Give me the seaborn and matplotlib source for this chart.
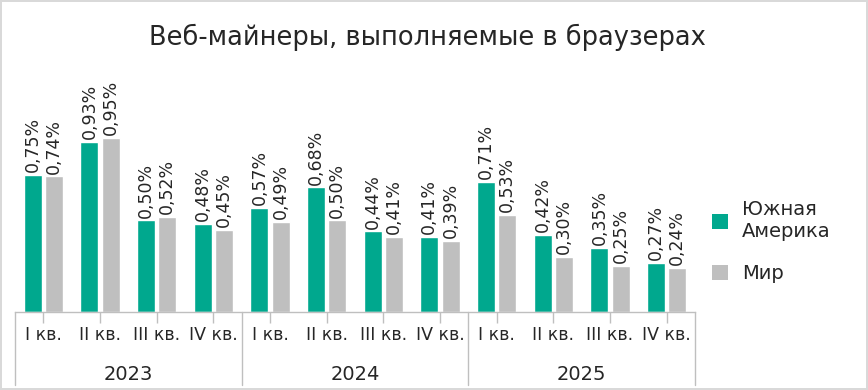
import numpy as np
import pandas as pd
import seaborn as sns
import matplotlib.pyplot as plt
from matplotlib.patches import Patch

quarters = ['I кв.', 'II кв.', 'III кв.', 'IV кв.'] * 3
years = ['2023', '2024', '2025']
south_america = [0.75, 0.93, 0.50, 0.48, 0.57, 0.68, 0.44, 0.41, 0.71, 0.42, 0.35, 0.27]
world = [0.74, 0.95, 0.52, 0.45, 0.49, 0.50, 0.41, 0.39, 0.53, 0.30, 0.25, 0.24]
series = ['Южная\nАмерика', 'Мир']
colors = ['#00A88E', '#BFBFBF']

periods = [f'{y} {q}' for y in years for q in quarters[:4]]
df = pd.DataFrame({
    'period': periods * 2,
    'value': south_america + world,
    'series': [series[0]] * 12 + [series[1]] * 12,
})

sns.set_theme(style='white')
plt.rcParams['font.family'] = ['DejaVu Sans']
text_color = '#262626'
line_color = '#BFBFBF'

fig = plt.figure(figsize=(8.68, 3.9), dpi=100)
fig.patch.set_edgecolor('#D9D9D9')
fig.patch.set_linewidth(1.5)
ax = fig.add_axes([15 / 868, 0.2, 680 / 868, 0.62])

sns.barplot(data=df, x='period', y='value', hue='series', palette=colors,
            width=0.75, gap=0.15, saturation=1, legend=False, ax=ax)

for cont, vals in zip(ax.containers, [south_america, world]):
    labels = [f'{v:.2f}%'.replace('.', ',') for v in vals]
    ax.bar_label(cont, labels=labels, rotation=90, padding=2,
                 fontsize=12.5, color=text_color)

ax.set_xlim(-0.5, 11.5)
ax.set_ylim(0, 1.32)
ax.set_yticks([])
ax.set_xlabel('')
ax.set_ylabel('')
ax.set_xticks(range(12))
ax.set_xticklabels(quarters, fontsize=12.5, color=text_color)
ax.tick_params(axis='x', length=8, width=1, color=line_color, pad=2, bottom=True)
for s in ['top', 'right', 'left']:
    ax.spines[s].set_visible(False)
ax.spines['bottom'].set_color(line_color)
ax.spines['bottom'].set_linewidth(1)

trans = ax.get_xaxis_transform()
for x in [-0.5, 3.5, 7.5, 11.5]:
    ax.plot([x, x], [0, -0.3], transform=trans, color=line_color, lw=1, clip_on=False)
for i, y in enumerate(years):
    ax.text(1.5 + 4 * i, -0.26, y, transform=trans, ha='center', va='center',
            fontsize=14, color=text_color)

fig.suptitle('Веб-майнеры, выполняемые в браузерах', x=0.493, y=0.94,
             fontsize=18.5, color=text_color)

handles = [Patch(facecolor=c, edgecolor='none') for c in colors]
fig.legend(handles, series, loc='center left', bbox_to_anchor=(694 / 868, 0.38),
           frameon=False, fontsize=14, handlelength=0.85, handleheight=0.85,
           handletextpad=0.7, labelspacing=1.2, labelcolor=text_color)

fig.savefig('out.png', dpi=100)
